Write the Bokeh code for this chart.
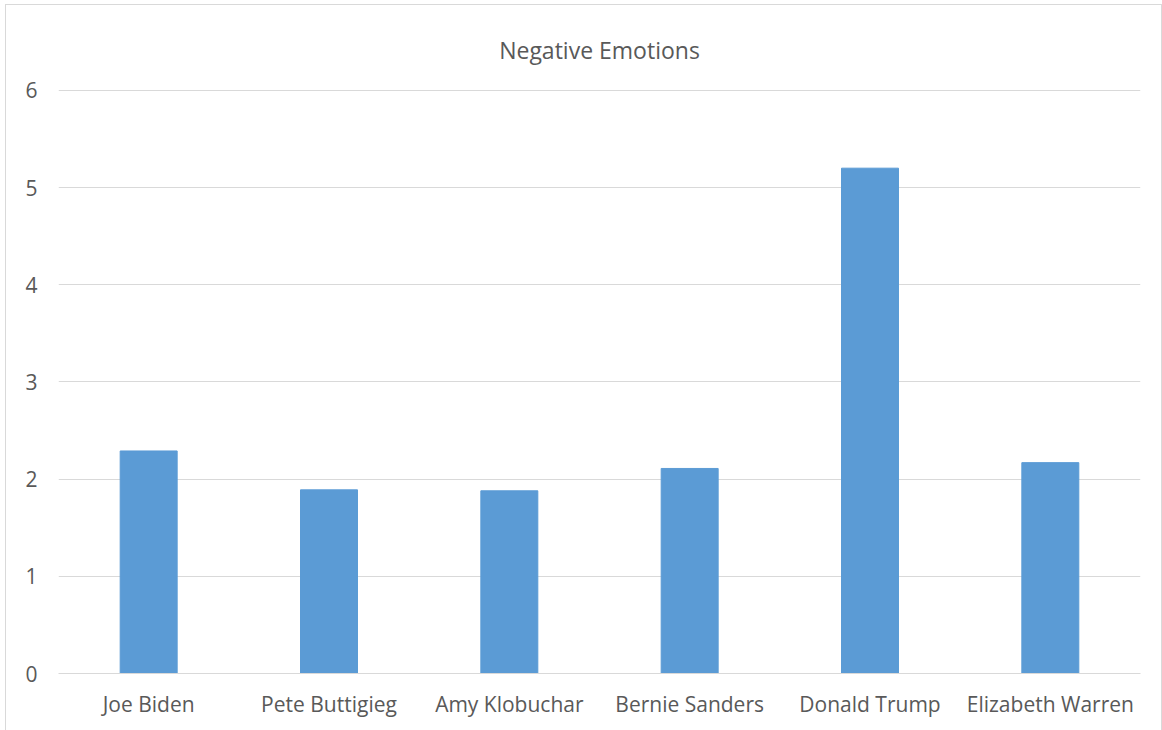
from bokeh.plotting import figure
from bokeh.models import ColumnDataSource, FactorRange, SingleIntervalTicker
from bokeh.embed import file_html
from bokeh.resources import INLINE

candidates = ["Joe Biden", "Pete Buttigieg", "Amy Klobuchar", "Bernie Sanders", "Donald Trump", "Elizabeth Warren"]
negative = [2.29, 1.89, 1.88, 2.11, 5.20, 2.17]
title_text = "Negative Emotions"

FONT = "Open Sans"
TXT = "#595959"
GRID = "#d9d9d9"
BAR = "#5b9bd5"

src = ColumnDataSource(dict(x=candidates, top=negative))

p = figure(
    x_range=FactorRange(*candidates, range_padding=0),
    y_range=(0, 6.02),
    width=1157, height=726,
    output_backend="svg", toolbar_location=None,
    min_border_left=52, min_border_right=23, min_border_top=83, min_border_bottom=58,
)
p.vbar(x="x", top="top", width=0.316, source=src, fill_color=BAR, line_color=BAR)

p.title.text = title_text
p.title.align = "center"
p.title.text_font = FONT
p.title.text_font_size = "23px"
p.title.text_font_style = "normal"
p.title.text_color = TXT
p.title.standoff = 45

p.outline_line_color = None
p.background_fill_color = "white"
p.border_fill_color = "white"

p.xgrid.grid_line_color = None
p.ygrid.grid_line_color = GRID
p.ygrid.grid_line_width = 1

p.yaxis.ticker = SingleIntervalTicker(interval=1)
p.yaxis.axis_line_color = None
p.yaxis.major_tick_line_color = None
p.yaxis.minor_tick_line_color = None
p.yaxis.major_label_standoff = 15
p.yaxis.major_label_text_font = FONT
p.yaxis.major_label_text_font_size = "21px"
p.yaxis.major_label_text_color = TXT

p.xaxis.axis_line_color = GRID
p.xaxis.axis_line_width = 1
p.xaxis.major_tick_line_color = None
p.xaxis.minor_tick_line_color = None
p.xaxis.major_label_standoff = 10
p.xaxis.major_label_text_font = FONT
p.xaxis.major_label_text_font_size = "21px"
p.xaxis.major_label_text_color = TXT

p.styles = {"border-left": "1px solid #d9d9d9", "border-top": "1px solid #d9d9d9",
            "border-right": "1px solid #d9d9d9", "box-sizing": "border-box",
            "margin-left": "5px", "margin-top": "4px"}

open("out.html", "w").write(file_html(p, INLINE))
